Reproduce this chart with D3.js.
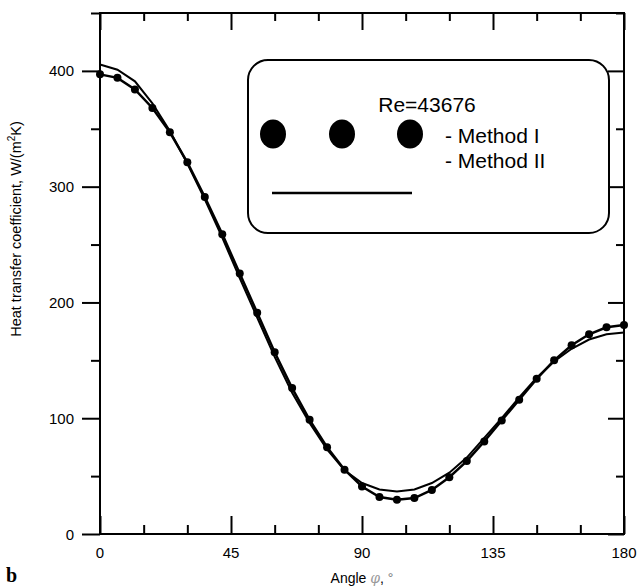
<!DOCTYPE html>
<html lang="en">
<head>
<meta charset="utf-8">
<title>Heat transfer coefficient</title>
<script src="https://d3js.org/d3.v7.min.js"></script>
<style>
body {
    margin: 0;
    background: #fff;
    font-family: "Liberation Sans", Arial, sans-serif;
}
.axis path { display: none; }
.axis line { stroke: #000; stroke-width: 2px; }
.tick-label { font-size: 15px; fill: #000; }
</style>
</head>
<body>
<svg width="637" height="588"></svg>
<script>

// angle along the cylinder, degrees
var angles = [0, 6, 12, 18, 24, 30, 36, 42, 48, 54, 60, 66, 72, 78, 84, 90,
              96, 102, 108, 114, 120, 126, 132, 138, 144, 150, 156, 162, 168, 174, 180];

// heat transfer coefficient, W/(m2K)
var methodI = [397, 394, 384, 368, 347, 321, 291, 259, 225, 191, 157, 126, 98.6, 75, 55.5, 41,
               32, 29.6, 31, 38, 49, 63, 80, 98, 116, 134, 150, 163, 172.5, 178.5, 180.5];
var methodII = [405.5, 401, 391, 372, 348, 320, 289, 256, 221, 187, 153, 122, 96, 73, 55, 44,
                38.5, 36.8, 38.5, 44, 53, 66, 83, 100, 118, 135, 149, 160, 168, 172.5, 174];

var xTicks = [0, 15, 30, 45, 60, 75, 90, 105, 120, 135, 150, 165, 180];
var xLabels = [0, 45, 90, 135, 180];
var yTicks = [0, 50, 100, 150, 200, 250, 300, 350, 400, 450];
var yLabels = [0, 100, 200, 300, 400];

var svg = d3.select("svg");

var x = d3.scaleLinear().domain([0, 180]).range([100, 624]);
var y = d3.scaleLinear().domain([0, 450]).range([534, 13]);

function isMajorX(d) { return xLabels.indexOf(d) != -1; }
function isMajorY(d) { return yLabels.indexOf(d) != -1; }

// bottom and top axes: ticks point into the plot
svg.append("g")
    .attr("class", "axis")
    .attr("transform", "translate(0," + y(0) + ")")
    .call(d3.axisBottom(x).tickValues(xTicks).tickSizeOuter(0).tickFormat(""))
  .selectAll(".tick line")
    .attr("y2", function(d) { return isMajorX(d) ? -18 : -9; });

svg.append("g")
    .attr("class", "axis")
    .attr("transform", "translate(0," + y(450) + ")")
    .call(d3.axisTop(x).tickValues(xTicks).tickSizeOuter(0).tickFormat(""))
  .selectAll(".tick line")
    .attr("y2", function(d) { return isMajorX(d) ? 17 : 8; });

// left axis: ticks point outwards, right axis: inwards
svg.append("g")
    .attr("class", "axis")
    .attr("transform", "translate(" + x(0) + ",0)")
    .call(d3.axisLeft(y).tickValues(yTicks).tickSizeOuter(0).tickFormat(""))
  .selectAll(".tick line")
    .attr("x2", function(d) { return isMajorY(d) ? -18 : -9; });

svg.append("g")
    .attr("class", "axis")
    .attr("transform", "translate(" + x(180) + ",0)")
    .call(d3.axisRight(y).tickValues(yTicks).tickSizeOuter(0).tickFormat(""))
  .selectAll(".tick line")
    .attr("x2", function(d) { return isMajorY(d) ? -16 : -8; });

// frame
svg.append("rect")
    .attr("x", x(0))
    .attr("y", y(450))
    .attr("width", x(180) - x(0))
    .attr("height", y(0) - y(450))
    .attr("fill", "none")
    .attr("stroke", "#000")
    .attr("stroke-width", 2);

svg.selectAll(".xlab")
    .data(xLabels)
  .enter().append("text")
    .attr("class", "tick-label")
    .attr("x", function(d) { return x(d); })
    .attr("y", 558)
    .attr("text-anchor", "middle")
    .text(function(d) { return d; });

svg.selectAll(".ylab")
    .data(yLabels)
  .enter().append("text")
    .attr("class", "tick-label")
    .attr("x", 74)
    .attr("y", function(d) { return y(d) + 5.5; })
    .attr("text-anchor", "end")
    .text(function(d) { return d; });

// axis titles
var xt = svg.append("text")
    .attr("x", 362)
    .attr("y", 583)
    .attr("text-anchor", "middle")
    .style("font-size", "14px");
xt.append("tspan").text("Angle ");
xt.append("tspan")
    .style("font-family", "'DejaVu Serif', serif")
    .style("font-style", "italic")
    .attr("fill", "#9a9a9a")
    .text("\u03C6");
xt.append("tspan").text(", ");
xt.append("tspan").attr("fill", "#777").text("\u00B0");

var yt = svg.append("text")
    .attr("transform", "translate(21,229) rotate(-90)")
    .attr("text-anchor", "middle")
    .style("font-size", "14.5px");
yt.append("tspan").text("Heat transfer coefficient, W/(m");
yt.append("tspan").attr("dy", -6).style("font-size", "10px").text("2");
yt.append("tspan").attr("dy", 6).text("K)");

svg.append("text")
    .attr("x", 6)
    .attr("y", 582)
    .style("font-family", "'Liberation Serif', 'Times New Roman', serif")
    .style("font-weight", "bold")
    .style("font-size", "20px")
    .text("b");

// curves
var line = d3.line()
    .x(function(d, i) { return x(angles[i]); })
    .y(function(d) { return y(d); });

svg.append("path")
    .datum(methodII)
    .attr("d", line)
    .attr("fill", "none")
    .attr("stroke", "#000")
    .attr("stroke-width", 2);

svg.append("path")
    .datum(methodI)
    .attr("d", line)
    .attr("fill", "none")
    .attr("stroke", "#000")
    .attr("stroke-width", 2.5);

svg.selectAll(".dot")
    .data(methodI)
  .enter().append("circle")
    .attr("cx", function(d, i) { return x(angles[i]); })
    .attr("cy", function(d) { return y(d); })
    .attr("r", 4)
    .attr("fill", "#000");

// legend box
var legend = svg.append("g");

legend.append("rect")
    .attr("x", 248)
    .attr("y", 60)
    .attr("width", 361)
    .attr("height", 173)
    .attr("rx", 20)
    .attr("fill", "#fff")
    .attr("stroke", "#000")
    .attr("stroke-width", 2);

legend.append("text")
    .attr("x", 427)
    .attr("y", 112)
    .attr("text-anchor", "middle")
    .style("font-size", "21px")
    .text("Re=43676");

legend.selectAll("ellipse")
    .data([273, 342, 410])
  .enter().append("ellipse")
    .attr("cx", function(d) { return d; })
    .attr("cy", 134)
    .attr("rx", 13)
    .attr("ry", 14.5)
    .attr("fill", "#000");

legend.append("text")
    .attr("x", 445)
    .attr("y", 143)
    .style("font-size", "21px")
    .text("- Method I");

legend.append("text")
    .attr("x", 445)
    .attr("y", 168)
    .style("font-size", "21px")
    .text("- Method II");

legend.append("line")
    .attr("x1", 272)
    .attr("x2", 412)
    .attr("y1", 193)
    .attr("y2", 193)
    .attr("stroke", "#000")
    .attr("stroke-width", 2.5);

</script>
</body>
</html>
